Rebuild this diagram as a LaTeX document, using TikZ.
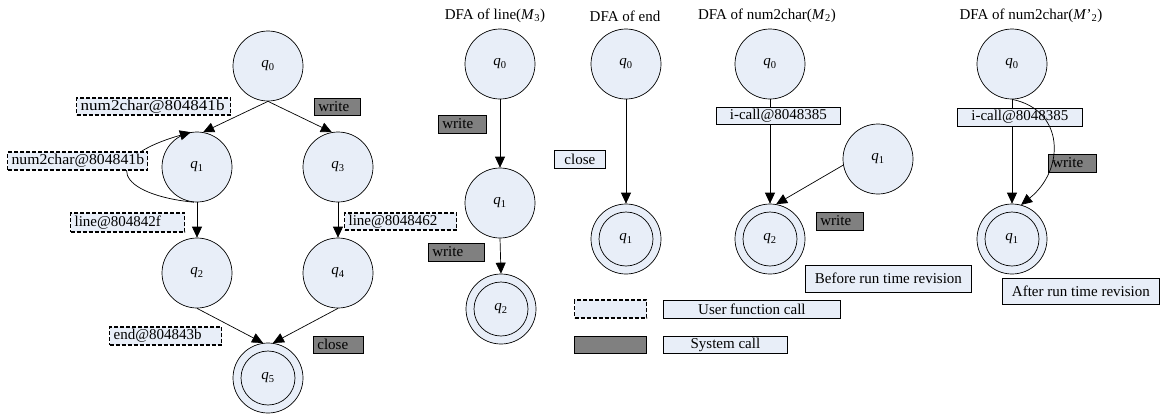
\documentclass[tikz,border=0pt]{standalone}
\usepackage{fontspec}
\setmainfont{Liberation Serif}
\usetikzlibrary{arrows.meta}
\definecolor{statefill}{RGB}{232,238,248}
\definecolor{sysfill}{RGB}{128,128,128}
\newcommand{\qs}[1]{\textit{q}\textsubscript{#1}}
\newcommand{\wide}[2]{\scalebox{#1}[1]{#2}}
\tikzset{
  state/.style={circle, draw, line width=0.7pt, fill=statefill, minimum size=70pt, inner sep=0pt},
  accept/.style={state, path picture={\draw[line width=0.7pt] (path picture bounding box.center) circle (27pt);}},
  edge/.style={line width=0.7pt, -{Triangle[length=11pt,width=10pt]}},
  userbox/.style={draw, line width=1.2pt, dash pattern=on 4pt off 2pt, fill=statefill, anchor=west, inner xsep=4pt, inner ysep=0pt, align=left},
  sysbox/.style={draw, line width=0.8pt, fill=sysfill, anchor=west, inner xsep=4pt, inner ysep=0pt, align=left},
  plainbox/.style={draw, line width=0.8pt, fill=statefill, anchor=west, inner sep=0pt, align=center},
  title/.style={inner sep=0pt}
}
\begin{document}
\begin{tikzpicture}[x=1pt, y=-1pt, font=\fontsize{15}{18}\selectfont]
\useasboundingbox (0,0) rectangle (1163,413);

% ---------- main program automaton ----------
\node[state]  (L0) at (268,66)  {\qs{0}};
\node[state]  (L1) at (197,167) {\qs{1}};
\node[state]  (L3) at (338,167) {\qs{3}};
\node[state]  (L2) at (197,273) {\qs{2}};
\node[state]  (L4) at (338,273) {\qs{4}};
\node[accept] (L5) at (268,378) {\qs{5}};

\draw[edge] (L0.south) -- (L1.80);
\draw[edge] (L0.south) -- (L3.100);
\draw[edge] (L1.265) .. controls (120,195) and (95,160) .. (L1.100);
\draw[edge] (L1.south) -- (L2.north);
\draw[edge] (L3.south) -- (L4.north);
\draw[edge] (L2.south) -- (L5.98);
\draw[edge] (L4.south) -- (L5.82);

\node[userbox, text width=146pt, minimum height=17pt] (LA) at (76,106.5) {\wide{1.14}{num2char@804841b}};
\node[sysbox,  text width=38pt,  minimum height=17pt] (LW) at (314,106.5) {write};
\node[userbox, text width=132pt, minimum height=18pt] (LB) at (7,161) {\wide{1.05}{num2char@804841b}};
\node[userbox, text width=106pt, minimum height=19pt] (LC) at (70,222.5) {line@804842f};
\node[userbox, text width=104pt, minimum height=17pt] (LD) at (344,221.5) {line@8048462};
\node[userbox, text width=104pt, minimum height=18pt] (LE) at (109,336) {end@804843b};
\node[sysbox,  text width=42pt,  minimum height=17pt] (LF) at (313,344.5) {close};

% ---------- DFA of line ----------
\node[title] (T1) at (495,16) {DFA of line(\textit{M}\textsubscript{3})};
\node[state]  (A0) at (500,64)  {\qs{0}};
\node[state]  (A1) at (500,203) {\qs{1}};
\node[accept] (A2) at (501,309) {\qs{2}};
\draw[edge] (A0.south) -- (A1.north);
\draw[edge] (A1.south) -- (A2.north);
\node[sysbox, text width=40pt, minimum height=18pt] (AW1) at (438,124) {write};
\node[sysbox, text width=48pt, minimum height=18pt] (AW2) at (428,252) {write};

% ---------- DFA of end ----------
\node[title] (T2) at (625,16) {DFA of end};
\node[state]  (B0) at (626,64)  {\qs{0}};
\node[accept] (B1) at (626,239) {\qs{1}};
\draw[edge] (B0.south) -- (B1.north);
\node[plainbox, minimum width=51pt, minimum height=18pt] (BC) at (554,159) {close};

% ---------- DFA of num2char before revision ----------
\node[title] (T3) at (767,16) {DFA of num2char(\textit{M}\textsubscript{2})};
\node[state]  (C0) at (770,64)  {\qs{0}};
\node[state]  (C1) at (878,159) {\qs{1}};
\node[accept] (C2) at (770,239) {\qs{2}};
\draw[edge] (C0.south) -- (C2.north);
\draw[edge] (C1.190) -- (C2.80);
\node[plainbox, minimum width=124pt, minimum height=17pt] (CI) at (716,115.5) {i-call@8048385};
\node[sysbox, text width=39pt, minimum height=18pt] (CW) at (816,221) {write};
\node[plainbox, minimum width=166pt, minimum height=27pt] (CB) at (805,278.5) {Before run time revision};

% ---------- DFA of num2char after revision ----------
\node[title] (T4) at (1031,16) {DFA of num2char(\textit{M}{\char"27}\textsubscript{2})};
\node[state]  (D0) at (1012,64)  {\qs{0}};
\node[accept] (D1) at (1012,239) {\qs{1}};
\draw[edge] (D0.south) -- (D1.north);
\node[plainbox, minimum width=125pt, minimum height=18pt] (DI) at (957,117) {i-call@8048385};
\node[sysbox, text width=40pt, minimum height=18pt] (DW) at (1048,163) {write};
\draw[edge] (D0.south) .. controls (1065,110) and (1065,170) .. (D1.75);
\node[plainbox, minimum width=157pt, minimum height=26pt] (DA) at (1002,291) {After run time revision};

% ---------- legend ----------
\node[userbox, minimum width=72pt, minimum height=18pt] (KU) at (574,309) {};
\node[plainbox, minimum width=177pt, minimum height=18pt] (KUt) at (663,309) {User function call};
\node[sysbox, minimum width=72pt, minimum height=17pt] (KS) at (574,344.5) {};
\node[plainbox, minimum width=124pt, minimum height=17pt] (KSt) at (663,344.5) {System call};
\end{tikzpicture}
\end{document}
